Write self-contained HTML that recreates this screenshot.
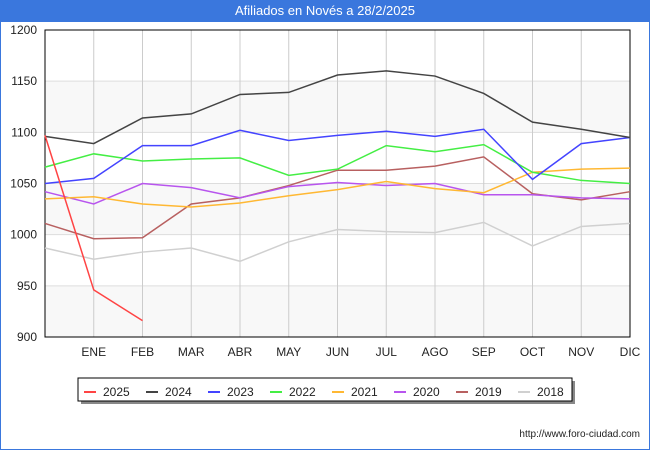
<!DOCTYPE html>
<html><head><meta charset="utf-8"><style>
body{margin:0;background:#fff;font-family:"Liberation Sans",sans-serif;}
#wrap{position:relative;width:650px;height:450px;overflow:hidden;}
#border{position:absolute;left:0;top:0;width:648px;height:448px;border:1px solid #3a77dd;}
#title{position:absolute;left:0;top:0;width:650px;height:22px;background:#3a77dd;color:#fff;font-size:13px;text-align:center;line-height:22px;}
</style></head><body>
<div id="wrap">
<div id="border"></div>
<div id="title">Afiliados en Novés a 28/2/2025</div>
<svg id="svg" width="650" height="450" style="position:absolute;left:0;top:0"></svg>
</div>
<script>
const months=["","ENE","FEB","MAR","ABR","MAY","JUN","JUL","AGO","SEP","OCT","NOV","DIC"];
const yTicks=[900,950,1000,1050,1100,1150,1200];
const seriesNames=["2025","2024","2023","2022","2021","2020","2019","2018"];
const seriesColors=["#ff4444","#444444","#4444ff","#44ee44","#ffb833","#b855ee","#b86060","#d0d0d0"];
const s2025=[1097,946,916];
const s2024=[1096,1089,1114,1118,1137,1139,1156,1160,1155,1138,1110,1103,1095];
const s2023=[1050,1055,1087,1087,1102,1092,1097,1101,1096,1103,1054,1089,1095];
const s2022=[1066,1079,1072,1074,1075,1058,1064,1087,1081,1088,1061,1053,1050];
const s2021=[1035,1037,1030,1027,1031,1038,1044,1052,1045,1041,1061,1064,1065];
const s2020=[1042,1030,1050,1046,1036,1047,1051,1048,1050,1039,1039,1036,1035];
const s2019=[1011,996,997,1030,1036,1048,1063,1063,1067,1076,1040,1034,1042];
const s2018=[987,976,983,987,974,993,1005,1003,1002,1012,989,1008,1011];
const allSeries=[s2025,s2024,s2023,s2022,s2021,s2020,s2019,s2018];
const NS="http://www.w3.org/2000/svg";
const svg=document.getElementById('svg');
const X0=45,X1=630,Y0=337,Y1=30;
const x=i=>X0+(X1-X0)*i/12;
const y=v=>Y0-(v-900)*(Y0-Y1)/300;
function mk(t,a,p){const e=document.createElementNS(NS,t);for(const k in a)e.setAttribute(k,a[k]);(p||svg).appendChild(e);return e;}
for(let k=0;k<yTicks.length-1;k++){
  if(k%2===0){const b=mk('rect',{x:X0,y:y(yTicks[k+1]),width:X1-X0,height:y(yTicks[k])-y(yTicks[k+1]),fill:'#f8f8f8'});
  
  }
}
yTicks.forEach(v=>{
  const l=mk('line',{x1:X0,x2:X1,y1:y(v),y2:y(v),stroke:'#dddddd','stroke-width':1});
  
  
  const t=mk('text',{x:37,y:y(v)+4,'text-anchor':'end','font-size':12,fill:'#222'});t.textContent=v;
  
  
});
months.forEach((m,i)=>{
  if(i>0){const l=mk('line',{x1:x(i),x2:x(i),y1:Y1,y2:Y0,stroke:'#cccccc','stroke-width':1});
  
  }
  const t=mk('text',{x:x(i),y:356,'text-anchor':'middle','font-size':12,fill:'#222'});t.textContent=m;
  
  
});
const fr=mk('rect',{x:X0,y:Y1,width:X1-X0,height:Y0-Y1,fill:'none',stroke:'#000','stroke-width':1});


for(let s=allSeries.length-1;s>=0;s--){
  const pts=allSeries[s].map((v,i)=>x(i)+','+y(v)).join(' ');
  const p=mk('polyline',{points:pts,fill:'none',stroke:seriesColors[s],'stroke-width':1.5});
  
  
}
const lg=mk('g',{});


mk('rect',{x:81,y:381,width:494,height:23,fill:'#888'},lg);
mk('rect',{x:78,y:378,width:494,height:23,fill:'#fff',stroke:'#000','stroke-width':1},lg);
seriesNames.forEach((n,k)=>{
  const lx=84+k*62;
  const g=mk('g',{},lg);
  
  
  mk('line',{x1:lx,x2:lx+12,y1:392,y2:392,stroke:seriesColors[k],'stroke-width':2},g);
  const t=mk('text',{x:lx+19,y:396,'font-size':12,fill:'#222'},g);t.textContent=n;
});
const u=mk('text',{x:640,y:437,'text-anchor':'end','font-size':10,fill:'#222'});u.textContent='http://www.foro-ciudad.com';


</script>
</body></html>
